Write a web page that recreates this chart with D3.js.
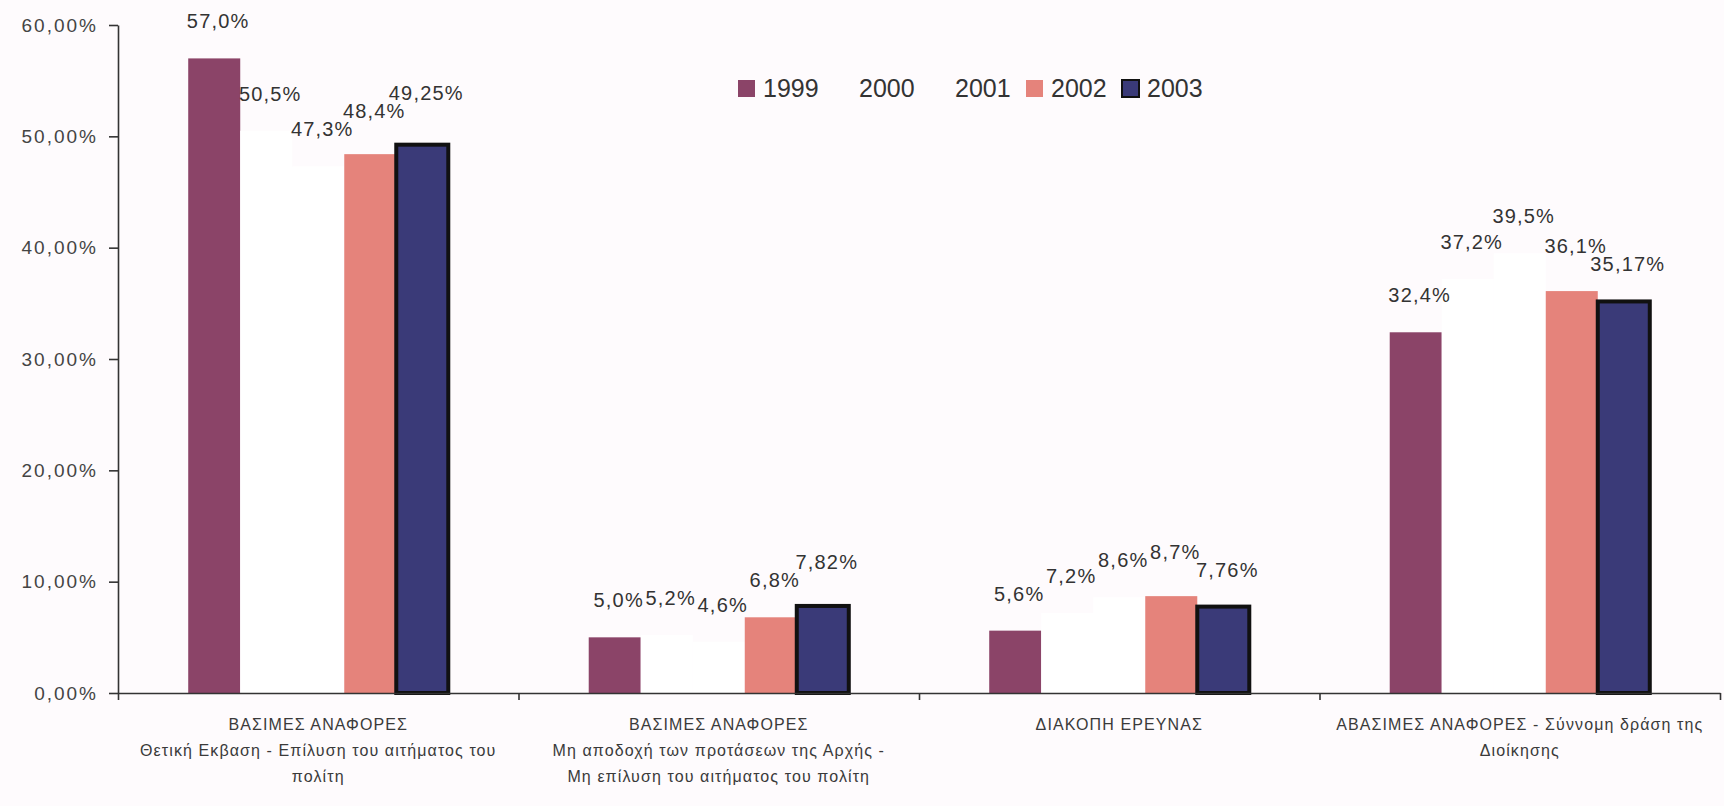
<!DOCTYPE html>
<meta charset="utf-8">
<style>
body { margin: 0; background: #fefbfd; }
text { font-family: "Liberation Sans", Arial, sans-serif; fill: #333; }
.axis path, .axis line { stroke: #333; stroke-width: 1.6px; }
.axis text { font-size: 19px; letter-spacing: 2px; fill: #444; }
.value { font-size: 20px; letter-spacing: 1.2px; text-anchor: middle; }
.cat { font-size: 16px; letter-spacing: 1.1px; text-anchor: middle; fill: #3a3a3a; }
.legend text { font-size: 25px; }
</style>
<body>
<script src="https://cdn.jsdelivr.net/npm/d3@7"></script>
<script>

// categories (one array of text lines each)
var categories = [
  ["ΒΑΣΙΜΕΣ ΑΝΑΦΟΡΕΣ", "Θετική Εκβαση - Επίλυση του αιτήματος του", "πολίτη"],
  ["ΒΑΣΙΜΕΣ ΑΝΑΦΟΡΕΣ", "Μη αποδοχή των προτάσεων της Αρχής -", "Μη επίλυση του αιτήματος του πολίτη"],
  ["ΔΙΑΚΟΠΗ ΕΡΕΥΝΑΣ"],
  ["ΑΒΑΣΙΜΕΣ ΑΝΑΦΟΡΕΣ - Σύννομη δράση της", "Διοίκησης"]
];

var years = ["1999", "2000", "2001", "2002", "2003"];

// values per year, one per category (percent)
var v1999 = [57.0, 5.0, 5.6, 32.4];
var v2000 = [50.5, 5.2, 7.2, 37.2];
var v2001 = [47.3, 4.6, 8.6, 39.5];
var v2002 = [48.4, 6.8, 8.7, 36.1];
var v2003 = [49.25, 7.82, 7.76, 35.17];

// how each label is printed (decimals as in the picture)
var decimals = [1, 1, 1, 1, 2];

var yTicks = [0, 10, 20, 30, 40, 50, 60];

var series = [v1999, v2000, v2001, v2002, v2003];
var fills  = ["#8b4468", "#ffffff", "#ffffff", "#e5837b", "#3a3a78"];
var strokes = ["none", "none", "none", "none", "#111"];

var width = 1724, height = 806;

var svg = d3.select("body").append("svg")
    .attr("width", width)
    .attr("height", height);

var x0 = d3.scaleBand()
    .domain(d3.range(categories.length))
    .range([118, 1720]);

var x1 = d3.scaleBand()
    .domain(years)
    .range([0, x0.bandwidth()])
    .paddingInner(0)
    .paddingOuter(1.35);

var y = d3.scaleLinear()
    .domain([0, 60])
    .range([693, 25]);

function pct(v, n) { return v.toFixed(n).replace(".", ",") + "%"; }

// bars
var rows = [];
categories.forEach(function (c, ci) {
  years.forEach(function (yr, si) {
    rows.push({c: ci, s: si, year: yr, value: series[si][ci]});
  });
});

svg.append("g").selectAll("rect")
    .data(rows)
  .enter().append("rect")
    .attr("x", function (d) { return x0(d.c) + x1(d.year); })
    .attr("y", function (d) { return y(d.value); })
    .attr("width", x1.bandwidth())
    .attr("height", function (d) { return y(0) - y(d.value); })
    .style("fill", function (d) { return fills[d.s]; })
    .style("stroke", function (d) { return strokes[d.s]; })
    .style("stroke-width", 4);

// axes
var yAxis = d3.axisLeft(y)
    .tickValues(yTicks)
    .tickSize(9)
    .tickSizeOuter(0)
    .tickPadding(11)
    .tickFormat(function (d) { return pct(d, 2); });

svg.append("g")
    .attr("class", "axis")
    .attr("transform", "translate(118,0)")
    .call(yAxis);

var xb = d3.scaleLinear().domain([0, categories.length]).range(x0.range());

svg.append("g")
    .attr("class", "axis")
    .attr("transform", "translate(0," + y(0) + ")")
    .call(d3.axisBottom(xb).ticks(categories.length).tickSize(7).tickSizeOuter(0).tickFormat(""));

// value labels
var labels = svg.append("g").selectAll("text")
    .data(rows)
  .enter().append("text")
    .attr("class", "value")
    .attr("x", function (d) { return x0(d.c) + x1(d.year) + x1.bandwidth() / 2 + 4; })
    .attr("y", function (d) { return d.ly = y(d.value) - 30; })
    .text(function (d) { return pct(d.value, decimals[d.s]); })
    .each(function (d) {
      d.lx = x0(d.c) + x1(d.year) + x1.bandwidth() / 2 + 4;
      d.w = this.getComputedTextLength();
    });

// nudge neighbours that collide: the higher one moves up
categories.forEach(function (c, ci) {
  var g = rows.filter(function (d) { return d.c === ci; });
  for (var i = 1; i < g.length; i++) {
    var a = g[i - 1], b = g[i];
    var overlapX = Math.abs(a.lx - b.lx) < (a.w + b.w) / 2 - 2;
    if (overlapX && Math.abs(a.ly - b.ly) < 18) {
      var top = a.ly <= b.ly ? a : b, low = top === a ? b : a;
      top.ly = low.ly - 18;
    }
  }
});
labels.attr("y", function (d) { return d.ly; });

// category labels
var cat = svg.append("g").selectAll("text")
    .data(categories)
  .enter().append("text")
    .attr("class", "cat")
    .attr("transform", function (d, i) { return "translate(" + (x0(i) + x0.bandwidth() / 2) + ",730)"; });

cat.selectAll("tspan")
    .data(function (d) { return d; })
  .enter().append("tspan")
    .attr("x", 0)
    .attr("y", function (d, i) { return i * 26; })
    .text(function (d) { return d; });

// legend
var legend = svg.append("g")
    .attr("class", "legend")
    .selectAll("g")
    .data(years)
  .enter().append("g")
    .attr("transform", function (d, i) { return "translate(" + (738 + i * 96) + ",80)"; });

legend.append("rect")
    .attr("width", 17)
    .attr("height", 17)
    .style("fill", function (d, i) { return fills[i] === "#ffffff" ? "none" : fills[i]; })
    .style("stroke", function (d, i) { return strokes[i]; })
    .style("stroke-width", 2);

legend.append("text")
    .attr("x", 25)
    .attr("y", 17)
    .text(function (d) { return d; });

</script>
